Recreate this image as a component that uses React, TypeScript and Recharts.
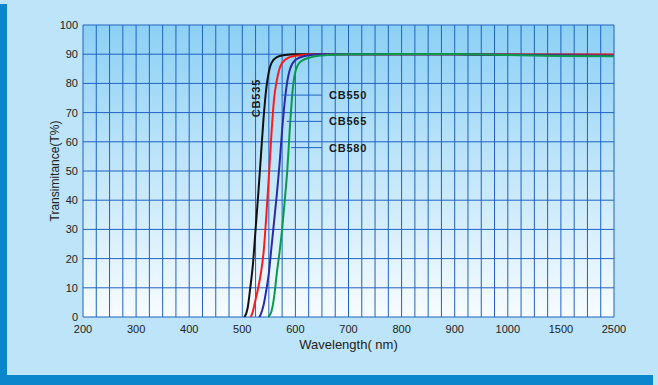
import {
  CartesianGrid,
  Label,
  Line,
  LineChart,
  ReferenceDot,
  ReferenceLine,
  XAxis,
  YAxis,
} from "recharts";

const font = "Arial, 'Liberation Sans', sans-serif";
const tickColor = "#222";
const gridDark = "#1f62c2";

// x axis is piecewise: 100 nm steps up to 1000, then 1500, 2500
const tickLabels = ["200", "300", "400", "500", "600", "700", "800", "900", "1000", "1500", "2500"];
const yTicks = [0, 10, 20, 30, 40, 50, 60, 70, 80, 90, 100];

const toPos = (w: number) =>
  w <= 1000 ? (w - 200) / 100 : w <= 1500 ? 8 + (w - 1000) / 500 : 9 + (w - 1500) / 1000;

const cb535Wl = [504, 510, 515, 520, 525, 530, 535, 540, 545, 550, 555, 565, 580, 600, 700, 800, 900, 1000, 1500, 2500];
const cb535T = [0, 3, 10, 18, 30, 42, 55, 68, 78, 84, 87, 89, 89.7, 90, 90, 90, 90, 89.8, 89.8, 89.7];

const cb550Wl = [516, 520, 525, 530, 535, 540, 545, 550, 555, 560, 565, 570, 580, 600, 650, 700, 800, 900, 1000, 1500, 2500];
const cb550T = [0, 2, 6, 10, 15, 22, 34, 48, 63, 75, 81, 85, 88, 89.5, 90, 90, 90, 90, 89.9, 89.9, 89.9];

const cb565Wl = [532, 535, 540, 545, 550, 555, 560, 565, 570, 575, 580, 585, 590, 600, 620, 650, 700, 800, 900, 1000, 1500, 2500];
const cb565T = [0, 1, 4, 9, 15, 24, 33, 42, 52, 64, 74, 81, 85, 88, 89.5, 90, 90, 90, 90, 89.8, 89.6, 89.5];

const cb580Wl = [549, 555, 560, 565, 570, 575, 580, 585, 590, 595, 600, 610, 630, 660, 700, 800, 900, 1000, 1500, 2500];
const cb580T = [0, 2, 7, 15, 22, 30, 40, 51, 66, 78, 84, 87.5, 89, 89.7, 90, 90.1, 90.1, 89.7, 89.4, 89.3];

const seriesNames = ["CB535", "CB550", "CB565", "CB580"];
const seriesColors = ["#111111", "#ff1a1a", "#2b2ba6", "#0a9a4c"];
const seriesWl = [cb535Wl, cb550Wl, cb565Wl, cb580Wl];
const seriesT = [cb535T, cb550T, cb565T, cb580T];

// callout leaders: start wavelength, end wavelength, level
const leaderStart = [574, 584, 592];
const leaderEnd = 650;
const leaderLevel = [76, 67, 58];

// grid every quarter step, labels only on whole steps
const minorTicks = Array.from({ length: 41 }, (_, i) => i / 4);

export default function App() {
  return (
    <div
      style={{
        position: "absolute",
        left: 0,
        top: 0,
        width: 658,
        height: 385,
        background: "#bde4f8",
        overflow: "hidden",
      }}
    >
      <div style={{ position: "absolute", left: 0, top: 4, width: 7, height: 381, background: "#0a86cc" }} />
      <div style={{ position: "absolute", left: 0, top: 375, width: 653, height: 10, background: "#0a86cc" }} />
      <LineChart
        width={658}
        height={385}
        margin={{ top: 25, right: 44, left: 43, bottom: 38 }}
        style={{ position: "absolute", left: 0, top: 0 }}
      >
        <defs>
          <linearGradient id="plotBg" x1="0" y1="0" x2="0" y2="1">
            <stop offset="0%" stopColor="#8cd0f5" />
            <stop offset="100%" stopColor="#f7fcff" />
          </linearGradient>
        </defs>
        <CartesianGrid fill="url(#plotBg)" fillOpacity={1} stroke={gridDark} />
        <XAxis
          dataKey="pos"
          type="number"
          domain={[0, 10]}
          ticks={minorTicks}
          interval={0}
          tickFormatter={(v: number) => (Number.isInteger(v) ? tickLabels[v] : "")}
          allowDuplicatedCategory={false}
          axisLine={false}
          tickLine={false}
          tick={{ fill: tickColor, fontSize: 11, fontFamily: font }}
          height={30}
        >
          <Label
            value="Wavelength( nm)"
            position="insideBottom"
            offset={-2}
            style={{ fill: "#222", fontSize: 13, fontFamily: font }}
          />
        </XAxis>
        <YAxis
          type="number"
          domain={[0, 100]}
          ticks={yTicks}
          axisLine={false}
          tickLine={false}
          tickSize={3}
          tick={{ fill: tickColor, fontSize: 11, fontFamily: font }}
          width={40}
        >
          <Label
            value="Transimitance(T%)"
            angle={-90}
            position="insideLeft"
            offset={12}
            style={{ fill: "#222", fontSize: 12, fontFamily: font, textAnchor: "middle" }}
          />
        </YAxis>
        {seriesNames.map((name, s) => (
          <Line
            key={name}
            data={seriesWl[s].map((w, i) => ({ pos: toPos(w), t: seriesT[s][i] }))}
            dataKey="t"
            type="monotone"
            stroke={seriesColors[s]}
            strokeWidth={2}
            dot={false}
            isAnimationActive={false}
          />
        ))}
        {leaderLevel.map((lv, i) => (
          <ReferenceLine
            key={"ld" + i}
            segment={[
              { x: toPos(leaderStart[i]), y: lv },
              { x: toPos(leaderEnd), y: lv },
            ]}
            stroke={gridDark}
            strokeWidth={1}
          />
        ))}
        {leaderLevel.map((lv, i) => (
          <ReferenceDot
            key={"lb" + i}
            x={toPos(leaderEnd)}
            y={lv}
            r={0}
            shape={(p: any) => (
              <text
                x={p.cx + 7}
                y={p.cy + 4}
                fill="#1a1a1a"
                fontSize={11}
                fontWeight="bold"
                letterSpacing={0.8}
                fontFamily={font}
              >
                {seriesNames[i + 1]}
              </text>
            )}
          />
        ))}
        <ReferenceDot
          x={toPos(527)}
          y={75}
          r={0}
          shape={(p: any) => (
            <text
              x={p.cx}
              y={p.cy}
              transform={`rotate(-90 ${p.cx} ${p.cy})`}
              textAnchor="middle"
              dominantBaseline="middle"
              fill="#1a1a1a"
              fontSize={11}
              fontWeight="bold"
              letterSpacing={0.8}
              fontFamily={font}
            >
              {seriesNames[0]}
            </text>
          )}
        />
      </LineChart>
    </div>
  );
}
